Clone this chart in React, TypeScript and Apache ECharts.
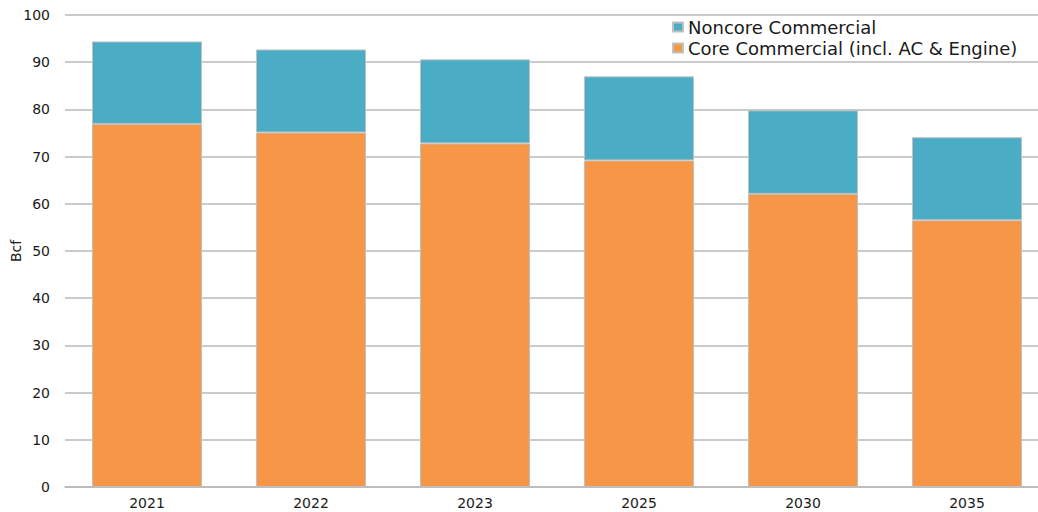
import React, { useEffect, useRef } from "react";
import * as echarts from "echarts";

const categories = ["2021", "2022", "2023", "2025", "2030", "2035"];
const totals = [94.4, 92.7, 90.6, 87.0, 79.8, 74.1];
const core = [76.9, 75.1, 72.8, 69.2, 62.1, 56.5];
const noncore = totals.map((t, i) => Math.round((t - core[i]) * 10) / 10);
const yTicks = [0, 10, 20, 30, 40, 50, 60, 70, 80, 90, 100];

const FONT = "DejaVu Sans, Arial, sans-serif";

export default function App() {
  const ref = useRef<HTMLDivElement>(null);
  useEffect(() => {
    const chart = echarts.init(ref.current!, null, { renderer: "svg" });
    chart.setOption({
      animation: false,
      backgroundColor: "#ffffff",
      grid: {
        left: 65,
        width: 984,
        top: 15,
        height: 472,
        containLabel: false,
        outerBoundsMode: "none",
      },
      legend: {
        orient: "vertical",
        left: 667,
        top: 13,
        icon: "rect",
        itemWidth: 10,
        itemHeight: 9,
        itemGap: 3,
        textStyle: { fontFamily: FONT, fontSize: 18, color: "#1a1a1a" },
        data: ["Noncore Commercial", "Core Commercial (incl. AC & Engine)"],
      },
      xAxis: {
        type: "category",
        data: categories,
        axisLine: { show: true, lineStyle: { color: "#b8b8b8", width: 1.5 } },
        axisTick: { show: false },
        axisLabel: { fontFamily: FONT, fontSize: 14, color: "#1a1a1a", margin: 9 },
      },
      yAxis: {
        type: "value",
        min: yTicks[0],
        max: yTicks[yTicks.length - 1],
        interval: 10,
        name: "Bcf",
        nameLocation: "middle",
        nameRotate: 90,
        nameGap: 42,
        nameMoveOverlap: false,
        nameTextStyle: { fontFamily: FONT, fontSize: 14, color: "#1a1a1a" },
        axisLine: { show: false },
        axisTick: { show: false },
        axisLabel: { fontFamily: FONT, fontSize: 14, color: "#1a1a1a", margin: 15 },
        splitLine: { show: true, lineStyle: { color: "#b8b8b8", width: 1.5 } },
      },
      series: [
        {
          name: "Core Commercial (incl. AC & Engine)",
          type: "bar",
          stack: "total",
          data: core,
          barWidth: 110,
          itemStyle: { color: "#F79646", borderColor: "#c0c0c0", borderWidth: 1 },
        },
        {
          name: "Noncore Commercial",
          type: "bar",
          stack: "total",
          data: noncore,
          barWidth: 110,
          itemStyle: { color: "#4BACC6", borderColor: "#c0c0c0", borderWidth: 1 },
        },
      ],
    });
    return () => chart.dispose();
  }, []);
  return (
    <div
      ref={ref}
      style={{ position: "absolute", left: 0, top: 0, width: 1038, height: 512 }}
    />
  );
}
